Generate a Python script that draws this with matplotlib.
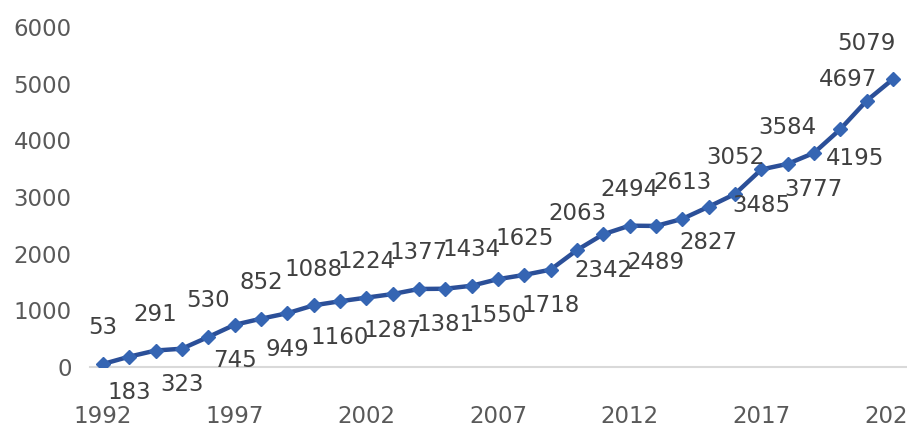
import matplotlib

matplotlib.use("Agg")
import matplotlib.pyplot as plt

years = list(range(1992, 2023))
counts = [
    53, 183, 291, 323, 530, 745, 852, 949, 1088, 1160,
    1224, 1287, 1377, 1381, 1434, 1550, 1625, 1718, 2063, 2342,
    2494, 2489, 2613, 2827, 3052, 3485, 3584, 3777, 4195, 4697,
    5079,
]
tick_years = [1992, 1997, 2002, 2007, 2012, 2017, 2022]

# label offsets in points; labels alternate above / below, a few nudged at the end
label_offsets = {28: (11, -21), 29: (-13, 15), 30: (-19, 26)}

plt.rcParams["font.family"] = "DejaVu Sans"
fig = plt.figure(figsize=(9.07, 4.28), dpi=100)
ax = fig.add_axes([0.099, 0.1425, 0.9, 0.7945])

xs = list(range(len(years)))
ax.plot(xs, counts, color="#2b4f98", linewidth=3.2, marker="D", markersize=7,
        markerfacecolor="#3565b3", markeredgecolor="#3565b3", zorder=3)

for i, v in enumerate(counts):
    if i in label_offsets:
        dx, dy = label_offsets[i]
    else:
        dx, dy = 0, (26 if i % 2 == 0 else -26)
    ax.annotate(str(v), (i, v), xytext=(dx, dy), textcoords="offset points",
                ha="center", va="center", fontsize=16.5, color="#404040", zorder=4)

ax.set_xlim(-0.5, len(years) - 0.5)
ax.set_ylim(0, 6000)
ax.set_yticks(range(0, 7000, 1000))
ax.set_xticks([years.index(y) for y in tick_years])
ax.set_xticklabels([str(y) for y in tick_years])

for side in ("top", "right", "left"):
    ax.spines[side].set_visible(False)
ax.spines["bottom"].set_color("#d9d9d9")
ax.spines["bottom"].set_linewidth(1.5)
ax.tick_params(axis="both", length=0, labelsize=16.5, labelcolor="#595959")
ax.tick_params(axis="y", pad=13)
ax.tick_params(axis="x", pad=27)

fig.savefig("out.png", dpi=100)
